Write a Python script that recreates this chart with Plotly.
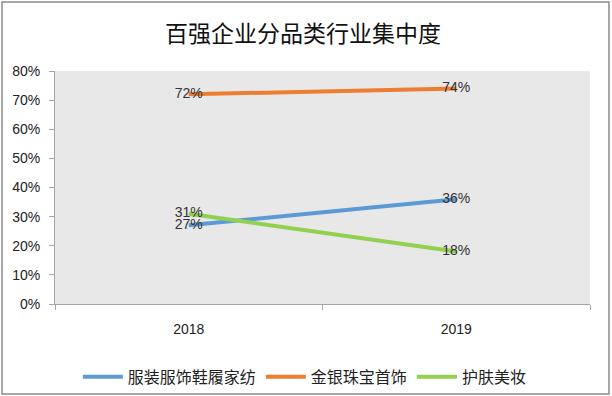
import plotly.graph_objects as go

years = ["2018", "2019"]
series_names = ["服装服饰鞋履家纺", "金银珠宝首饰", "护肤美妆"]
apparel = [0.27, 0.36]
jewelry = [0.72, 0.74]
beauty = [0.31, 0.18]
colors = ["#5b9bd5", "#ed7d31", "#92d050"]
y_ticks = [0, 0.1, 0.2, 0.3, 0.4, 0.5, 0.6, 0.7, 0.8]

fig = go.Figure()
for name, vals, c in zip(series_names, [apparel, jewelry, beauty], colors):
    fig.add_trace(go.Scatter(
        x=years, y=vals, name=name, mode="lines+text",
        line=dict(color=c, width=4),
        text=[f"{round(v*100)}%" for v in vals],
        textposition="middle center",
        textfont=dict(family="Liberation Sans, Noto Sans CJK SC", size=14, color="#333333"),
        cliponaxis=False,
    ))

fig.update_layout(
    width=612, height=396,
    margin=dict(l=55, r=22, t=71, b=92, autoexpand=False),
    paper_bgcolor="white",
    plot_bgcolor="#e8e8e8",
    title=dict(text="百强企业分品类行业集中度", x=0.495, xanchor="center", y=0.915, yanchor="middle",
               font=dict(family="Noto Sans CJK SC", size=23, color="#111111")),
    showlegend=True,
    legend=dict(orientation="h", x=0.467, xanchor="center", y=-0.313, yanchor="middle",
                bgcolor="rgba(0,0,0,0)",
                font=dict(family="Noto Sans CJK SC", size=16, color="#222222"),
                itemwidth=40, traceorder="normal"),
    font=dict(family="Liberation Sans, Noto Sans CJK SC", color="#333333"),
)
fig.update_xaxes(
    type="category", categoryorder="array", categoryarray=years,
    range=[-0.5, 1.5], showgrid=False, zeroline=False, automargin=False,
    showline=True, linecolor="#a6a6a6", linewidth=1,
    ticks="outside", tickson="boundaries", ticklen=5, tickcolor="#a6a6a6",
    ticklabelstandoff=12,
    tickfont=dict(size=14, color="#222222"),
)
fig.update_yaxes(
    range=[0, 0.8], tickvals=y_ticks, tickformat=".0%", showgrid=False, zeroline=False, automargin=False,
    showline=True, linecolor="#a6a6a6", linewidth=1,
    ticks="outside", ticklen=5, tickcolor="#a6a6a6",
    ticklabelstandoff=6,
    tickfont=dict(size=14, color="#222222"),
)
fig.add_shape(type="rect", xref="paper", yref="paper",
              x0=-0.099, x1=1.0355, y0=-0.386, y1=1.296,
              line=dict(color="#8c8c8c", width=1.5), fillcolor="rgba(0,0,0,0)", layer="below")

fig.write_html("out.html", config={"displayModeBar": False},
               post_script="document.body.style.margin='0';document.body.style.padding='0';")
